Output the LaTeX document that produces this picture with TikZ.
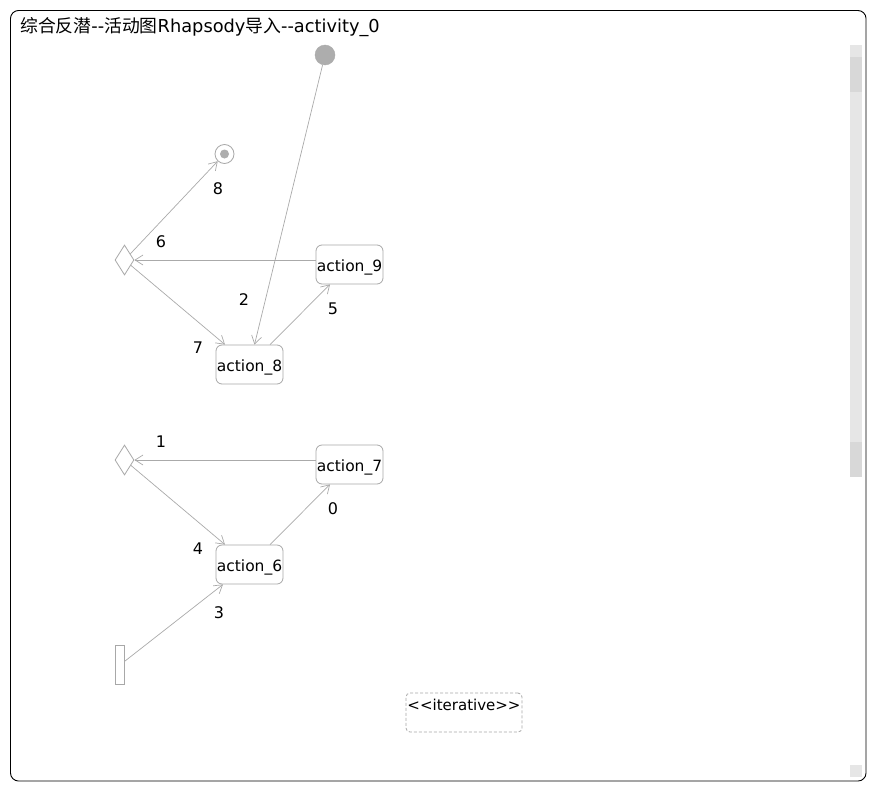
\documentclass[tikz,border=0pt]{standalone}
\usepackage{fontspec}
\setmainfont{DejaVu Sans}[Ligatures=TeXOff]
\newfontfamily\cjk{Noto Sans CJK SC}
\usetikzlibrary{arrows.meta, positioning, shapes.geometric}
\definecolor{inkline}{HTML}{AAAAAA}
\definecolor{inkbox}{HTML}{A8A8A8}
\definecolor{inkdot}{HTML}{ADADAD}
\definecolor{inktrack}{HTML}{E6E6E6}
\definecolor{inkthumb}{HTML}{D8D8D8}

\begin{document}
\begin{tikzpicture}[x=1pt, y=-1pt, font=\fontsize{16}{19}\selectfont,
  action/.style={draw=inkbox, line width=0.8pt, rounded corners=6pt, minimum width=67pt,
    minimum height=39pt, inner sep=0pt, text height=14pt, text depth=0pt,
    font=\fontsize{15.5}{18}\selectfont},
  choice/.style={draw=inkbox, line width=0.8pt, diamond, minimum width=19pt,
    minimum height=30pt, inner sep=0pt},
  flow/.style={draw=inkline, line width=0.7pt, -{Straight Barb[length=8pt, width=10pt]}},
  tag/.style={inner sep=0pt}]
  % page and frame
  \fill[white] (0,0) rectangle (877,792);
  \useasboundingbox (0,0) rectangle (877,792);
  \draw[black, line width=0.9pt, rounded corners=8pt] (10.5,10.5) rectangle (866,781);
  \node[tag, anchor=base west, font=\fontsize{17.8}{20}\selectfont] (title) at (20,33)
    {{\cjk 综合反潜}--{\cjk 活动图}Rhapsody{\cjk 导入}--activity\_0};
  % scroll bar
  \fill[inktrack] (850,45) rectangle (862,477);
  \fill[inkthumb] (850,57) rectangle (862,92);
  \fill[inkthumb] (850,442) rectangle (862,477);
  \fill[inktrack] (850,765) rectangle (862,777);

  % upper loop
  \node[circle, draw=inkline, fill=inkdot, minimum size=20pt, inner sep=0pt] (init) at (325,55) {};
  \node[circle, draw=inkbox, line width=0.8pt, fill=white, minimum size=19pt, inner sep=0pt] (final) at (224.5,154) {};
  \fill[inkdot] (final) circle (4.5);
  \node[choice] (d1) at (124.5,260) {};
  \node[action] (a9) at (349.5,264.5) {action\_9};
  \node[action] (a8) at (249.5,364.5) {action\_8};

  % lower loop
  \node[choice] (d2) at (124.5,460) {};
  \node[action] (a7) at (349.5,464.5) {action\_7};
  \node[action] (a6) at (249.5,564.5) {action\_6};
  \node[draw=inkbox, line width=0.8pt, minimum width=9pt, minimum height=39pt, inner sep=0pt] (fork) at (119.5,664.5) {};

  \node[draw=inkbox, line width=0.8pt, dash pattern=on 3pt off 2pt, rounded corners=4pt,
    minimum width=116pt, minimum height=39pt, inner sep=0pt] (iter) at (464,712.5) {};
  \node[tag, anchor=north, font=\fontsize{15}{18}\selectfont] (itertext) at ([yshift=-6pt]iter.north)
    {<<iterative>>};

  % flows
  \draw[flow] (init) -- ([xshift=5pt]a8.north);
  \draw[flow] (d1 -| a9.west) -- (d1.east);
  \draw[flow] (d1) -- (final);
  \draw[flow] (d1) -- ([xshift=-24.5pt]a8.north);
  \draw[flow] ([xshift=20.5pt]a8.north) -- ([xshift=-19.5pt]a9.south);
  \draw[flow] (d2 -| a7.west) -- (d2.east);
  \draw[flow] (d2) -- ([xshift=-24.5pt]a6.north);
  \draw[flow] ([xshift=20.5pt]a6.north) -- ([xshift=-19.5pt]a7.south);
  \draw[flow] ([yshift=3pt]fork.east) -- ([xshift=-26.5pt]a6.south);

  % flow labels
  \foreach \lab/\px/\py in {8/218/189, 6/161/242, 2/244/300, 5/333/309, 7/198/348,
                            1/161/442, 0/333/509, 4/198/549, 3/219/613}{%
    \node[tag] (n\lab) at (\px,\py) {\lab};}
\end{tikzpicture}
\end{document}
